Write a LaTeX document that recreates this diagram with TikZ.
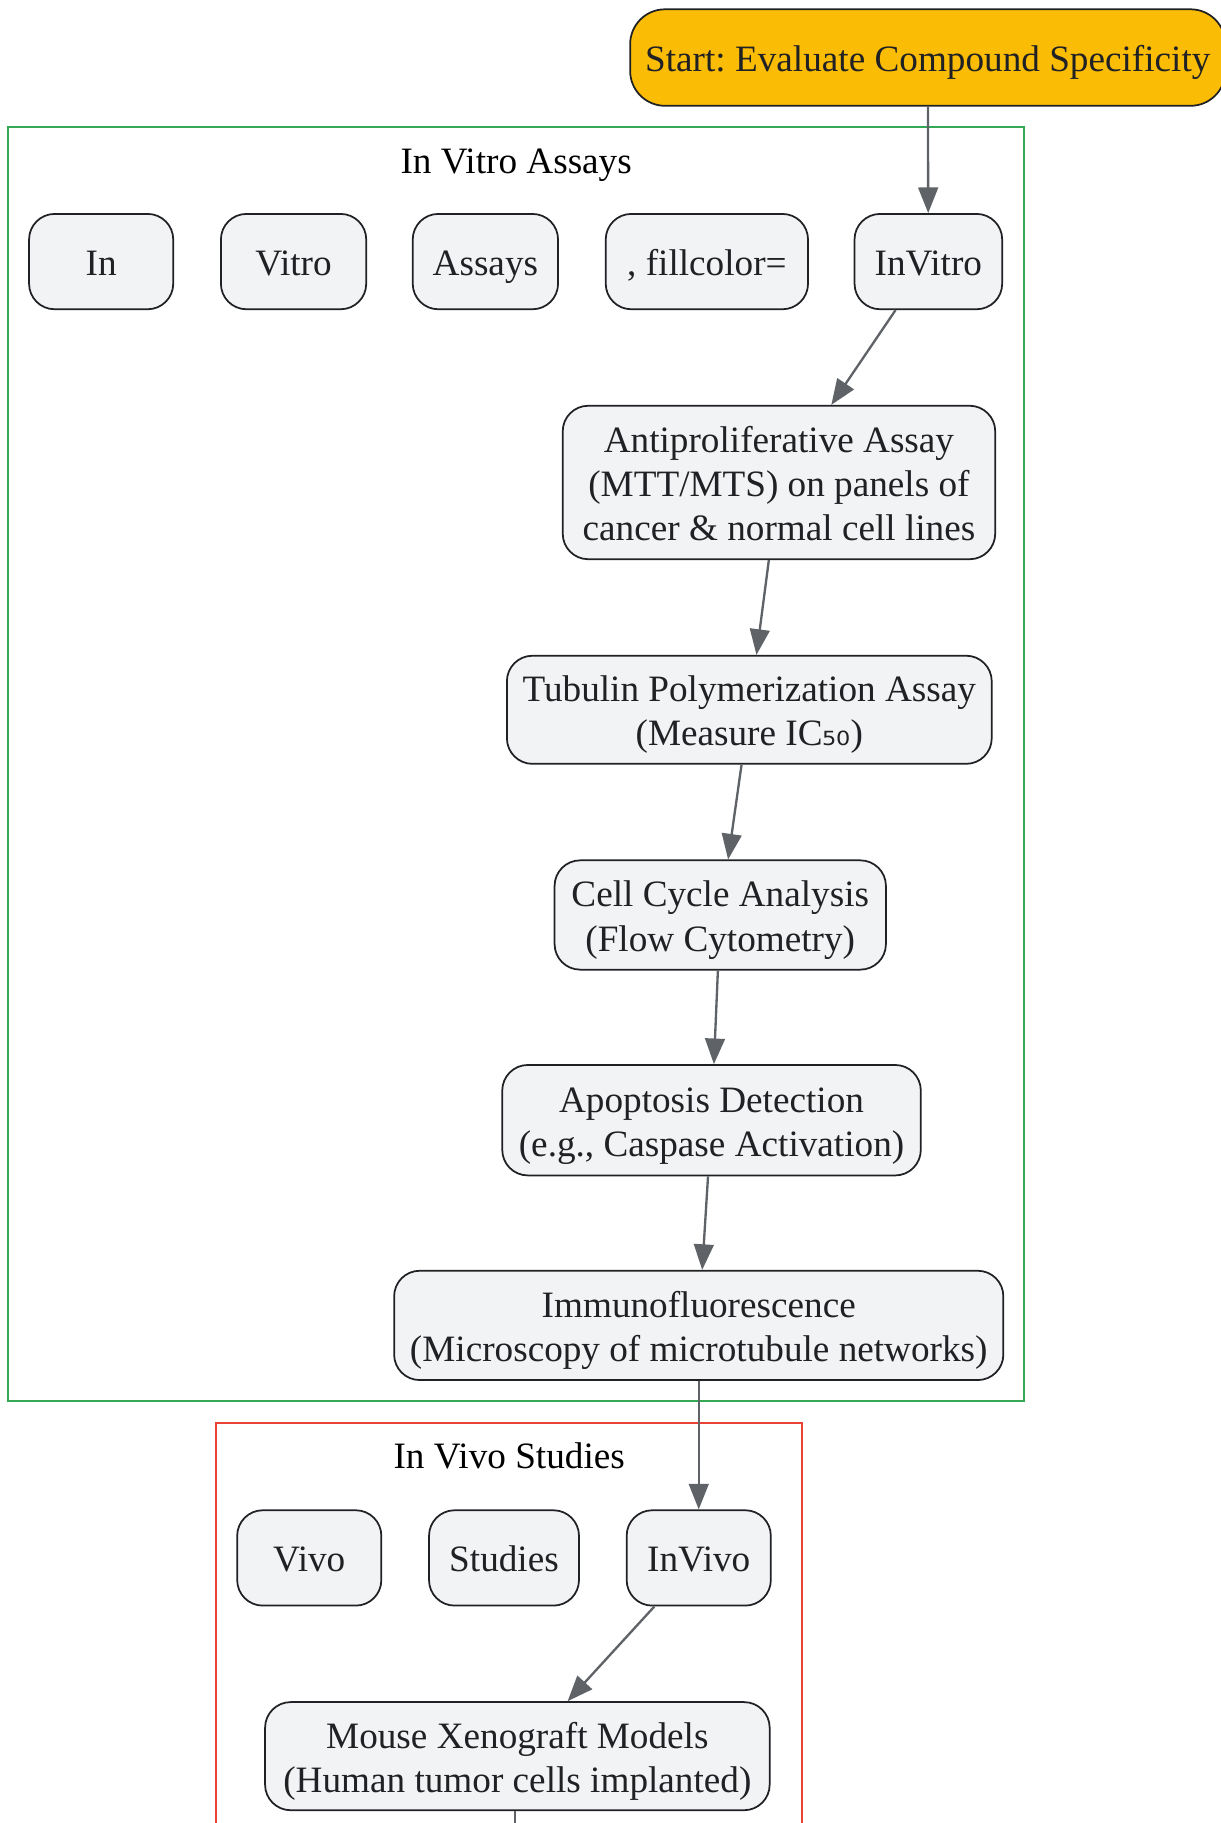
\documentclass[tikz,border=0pt]{standalone}
\usepackage{fontspec}
\setmainfont{Liberation Serif}
\newfontfamily\subfont{DejaVu Sans}
\usetikzlibrary{arrows.meta}
\definecolor{nodefill}{HTML}{F1F3F4}
\definecolor{nodeline}{HTML}{202124}
\definecolor{edgecol}{HTML}{5F6368}
\definecolor{startfill}{HTML}{FBBC05}
\definecolor{greenc}{HTML}{34A853}
\definecolor{redc}{HTML}{EA4335}
\newcommand\mystrut{\vrule height 31pt depth 7pt width 0pt\relax}
\frenchspacing
\begin{document}
\begin{tikzpicture}[x=1pt,y=-1pt,
  box/.style={draw=nodeline, fill=nodefill, line width=1.5pt, rounded corners=22pt,
    text=nodeline, inner sep=0pt, align=center, font=\fontsize{32}{38}\selectfont\frenchspacing},
  startbox/.style={box, fill=startfill, rounded corners=30pt},
  flow/.style={draw=edgecol, line width=2pt, -{Triangle[length=22pt,width=17pt]}},
  plainflow/.style={draw=edgecol, line width=2pt},
  cluster/.style={line width=1.8pt},
  ctitle/.style={inner sep=0pt, text=black, font=\fontsize{32}{38}\selectfont}
]
\useasboundingbox[fill=white] (0,0) rectangle (1050,1568);

% clusters
\draw[cluster, draw=greenc] (7,109) rectangle (881,1205);
\node[ctitle] (tvitro) at (444,137) {\mystrut In Vitro Assays};
\draw[cluster, draw=redc] (186,1224) rectangle (690,1620);
\node[ctitle] (tvivo) at (438,1251) {\mystrut In Vivo Studies};

% start
\node[startbox, minimum width=512pt, minimum height=83pt] (start) at (798,49.5)
  {\mystrut Start: Evaluate Compound Specificity};

% in vitro row
\node[box, minimum width=124pt, minimum height=82pt] (in) at (87,225) {\mystrut In};
\node[box, minimum width=125pt, minimum height=82pt] (vitro) at (252.5,225) {\mystrut Vitro};
\node[box, minimum width=125pt, minimum height=82pt] (assays) at (417.5,225) {\mystrut Assays};
\node[box, minimum width=174pt, minimum height=82pt] (fillc) at (608,225) {\mystrut , fillcolor=};
\node[box, minimum width=127pt, minimum height=82pt] (invitro) at (798.5,225) {\mystrut InVitro};

% in vitro chain
\node[box, minimum width=372pt, minimum height=132pt] (antip) at (670,415)
  {\mystrut Antiproliferative Assay\\\mystrut (MTT/MTS) on panels of\\\mystrut cancer \& normal cell lines};
\node[box, minimum width=417pt, minimum height=93pt] (tubulin) at (644.5,610.5)
  {\mystrut Tubulin Polymerization Assay\\\mystrut (Measure IC{\subfont\fontsize{30}{38}\selectfont ₅₀})};
\node[box, minimum width=285pt, minimum height=94pt] (cellcyc) at (619.5,787)
  {\mystrut Cell Cycle Analysis\\\mystrut (Flow Cytometry)};
\node[box, minimum width=360pt, minimum height=95pt] (apopt) at (612,963.5)
  {\mystrut Apoptosis Detection\\\mystrut (e.g., Caspase Activation)};
\node[box, minimum width=524pt, minimum height=94pt] (immuno) at (601,1140)
  {\mystrut Immunofluorescence\\\mystrut (Microscopy of microtubule networks)};

% in vivo row
\node[box, minimum width=124pt, minimum height=82pt] (vivo) at (266,1340) {\mystrut Vivo};
\node[box, minimum width=129pt, minimum height=82pt] (studies) at (433.5,1340) {\mystrut Studies};
\node[box, minimum width=124pt, minimum height=82pt] (invivo) at (601,1340) {\mystrut InVivo};

\node[box, minimum width=434pt, minimum height=93pt] (mouse) at (445,1510.5)
  {\mystrut Mouse Xenograft Models\\\mystrut (Human tumor cells implanted)};
\coordinate (mout) at (443,1600);

% edges
\draw[flow] (start) -- (invitro);
\draw[flow] (invitro) -- (antip);
\draw[flow] (antip) -- (tubulin);
\draw[flow] (tubulin) -- (cellcyc);
\draw[flow] (cellcyc) -- (apopt);
\draw[flow] (apopt) -- (immuno);
\draw[flow] (immuno) -- (invivo);
\draw[flow] (invivo) -- (mouse);
\draw[plainflow] (mouse.south -| mout) -- (mout);
\end{tikzpicture}
\end{document}
